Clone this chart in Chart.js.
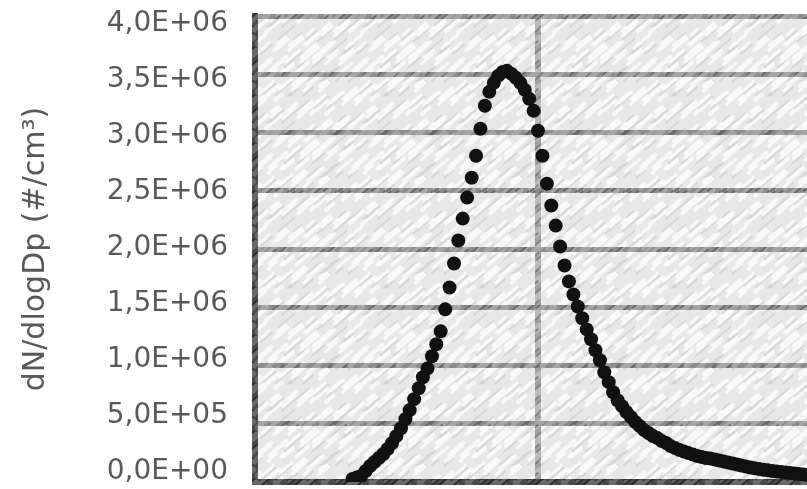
<!DOCTYPE html>
<html>
<head>
<meta charset="utf-8">
<script src="https://cdn.jsdelivr.net/npm/chart.js@4.4.1/dist/chart.umd.min.js"></script>
<style>
html, body { margin: 0; padding: 0; background: #fff; overflow: hidden; width: 807px; height: 489px; }
#wrap { position: absolute; left: 0; top: 0; width: 835px; height: 520px; }
</style>
</head>
<body>
<div id="wrap"><canvas id="myChart" width="835" height="520"></canvas></div>
<script>
// particle diameter (nm), 64 channels / decade
var diameters = [22.1, 22.9, 23.7, 24.6, 25.5, 26.4, 27.4, 28.4, 29.4, 30.5,
    31.6, 32.8, 34.0, 35.2, 36.5, 37.9, 39.2, 40.7, 42.2, 43.7,
    45.3, 47.0, 48.7, 50.5, 52.3, 54.2, 56.2, 58.3, 60.4, 62.6,
    64.9, 67.3, 69.8, 72.3, 75.0, 77.7, 80.6, 83.5, 86.6, 89.8,
    93.1, 96.5, 100, 103.7, 107.5, 111.4, 115.5, 119.7, 124.1, 128.6,
    133.4, 138.2, 143.3, 148.6, 154.0, 159.6, 165.5, 171.5, 177.8, 184.3,
    191.1, 198.1, 205.4, 212.9, 220.7, 228.8, 237.1, 245.8, 254.8, 264.2,
    273.8, 283.9, 294.3, 305.1, 316.2, 327.8, 339.8, 352.3, 365.2, 378.6,
    392.4, 406.8, 421.7, 437.1, 453.2, 469.8, 487.0, 504.8, 523.3, 542.5,
    562.3, 582.9, 604.3, 626.4, 649.4, 673.2, 697.8, 723.4, 749.9, 777.3,
    805.8, 835.4, 866.0, 897.7, 930.6];

// dN/dlogDp (#/cm3)
var concentrations = [26000, 38500, 51000, 94000, 137000, 171000, 206000, 240000, 283000, 334000,
    394000, 462000, 540000, 617000, 711000, 805000, 899000, 975000, 1079000, 1182000,
    1293000, 1482000, 1670000, 1876000, 2073000, 2261000, 2441000, 2612000, 2801000, 3032000,
    3229000, 3349000, 3426000, 3486000, 3520000, 3529000, 3503000, 3469000, 3426000, 3366000,
    3289000, 3186000, 3015000, 2801000, 2561000, 2373000, 2201000, 2021000, 1859000, 1722000,
    1610000, 1507000, 1405000, 1310000, 1225000, 1131000, 1045000, 942000, 857000, 771000,
    702000, 651000, 600000, 557000, 514000, 480000, 445000, 420000, 394000, 377000,
    351000, 334000, 308000, 291000, 274000, 261000, 248000, 236000, 223000, 214000,
    206000, 201000, 193000, 184000, 176000, 167000, 158000, 150000, 141000, 133000,
    124000, 117000, 111000, 105000, 100000, 94000, 90000, 86000, 81000, 77000,
    73000, 69000, 64000, 60000, 56000];

var yTickLabels = ['0,0E+00', '5,0E+05', '1,0E+06', '1,5E+06', '2,0E+06',
    '2,5E+06', '3,0E+06', '3,5E+06', '4,0E+06'];
var xGridValues = [10, 100, 1000];

var ctx = document.getElementById('myChart').getContext('2d');

// labels in the original sit a little off their gridlines (down at top, up at bottom)
function labelShift(index) {
    return 8 - 2.25 * (yTickLabels.length - 1 - index);
}

// pencil-like hatching texture
function makePattern(base, light, dark, size, count) {
    var c = document.createElement('canvas');
    c.width = c.height = size;
    var g = c.getContext('2d');
    g.fillStyle = base;
    g.fillRect(0, 0, size, size);
    g.lineCap = 'round';
    for (var k = 0; k < count; k++) {
        var x = (k * 37) % size, y = (k * 53 + (k % 5) * 11) % size;
        var len = 8 + (k * 7) % 16;
        g.strokeStyle = (k % 3 === 0) ? dark : light;
        g.lineWidth = 2 + k % 3;
        for (var ox = -size; ox <= size; ox += size) {
            for (var oy = -size; oy <= size; oy += size) {
                g.beginPath();
                g.moveTo(x + ox, y + oy);
                g.lineTo(x + ox + len * 0.75, y + oy - len * 0.65);
                g.stroke();
            }
        }
    }
    return ctx.createPattern(c, 'repeat');
}

var bgPattern = makePattern('#e8e8e8', '#f9f9f9', '#d8d8d8', 96, 90);
var gridPattern = makePattern('#8c8c8c', '#a6a6a6', '#6a6a6a', 48, 40);
var vGridPattern = makePattern('#a2a2a2', '#bababa', '#868686', 48, 40);
var axisPattern = makePattern('#484848', '#6a6a6a', '#2c2c2c', 48, 40);

var plotBackground = {
    id: 'plotBackground',
    beforeDraw: function (chart) {
        var a = chart.chartArea, c = chart.ctx;
        c.save();
        c.fillStyle = bgPattern;
        c.fillRect(a.left, a.top, a.right - a.left, a.bottom - a.top);
        c.restore();
    }
};

var myChart = new Chart(ctx, {
    type: 'scatter',
    data: {
        datasets: [{
            label: 'dN/dlogDp',
            data: diameters.map(function (d, i) { return { x: d, y: concentrations[i] }; }),
            pointRadius: 7,
            pointHoverRadius: 7,
            backgroundColor: '#111111',
            borderColor: '#111111',
            borderWidth: 0
        }]
    },
    options: {
        responsive: false,
        animation: false,
        layout: { padding: { top: 15, right: 14, left: 0, bottom: 0 } },
        plugins: {
            legend: { display: false },
            tooltip: { enabled: false }
        },
        scales: {
            x: {
                type: 'logarithmic',
                min: 10,
                max: 1000,
                ticks: { display: false },
                grid: { color: vGridPattern, lineWidth: 6, drawTicks: false },
                border: { display: true, color: axisPattern, width: 6 },
                afterBuildTicks: function (scale) {
                    scale.ticks = xGridValues.map(function (v) { return { value: v }; });
                },
                afterFit: function (scale) { scale.height = 38; }
            },
            y: {
                min: 0,
                max: 4000000,
                ticks: {
                    stepSize: 500000,
                    padding: 0,
                    color: '#595959',
                    font: function (c) {
                        var s = Math.abs(labelShift(c.index || 0));
                        return { family: 'DejaVu Sans', size: 28, lineHeight: Math.max(1, 2 * s) + 'px' };
                    },
                    callback: function (value, index) {
                        return labelShift(index) < 0 ? [yTickLabels[index], ''] : ['', yTickLabels[index]];
                    }
                },
                grid: {
                    color: gridPattern, lineWidth: 5,
                    drawTicks: true, tickLength: 27, tickColor: 'rgba(0,0,0,0)'
                },
                border: { display: true, color: axisPattern, width: 6 },
                title: {
                    display: true,
                    text: 'dN/dlogDp (#/cm³)',
                    color: '#595959',
                    font: { family: 'DejaVu Sans', size: 30 },
                    padding: { top: 18, bottom: 0 }
                },
                afterFit: function (scale) { scale.width = 255; }
            }
        }
    },
    plugins: [plotBackground]
});
</script>
</body>
</html>
